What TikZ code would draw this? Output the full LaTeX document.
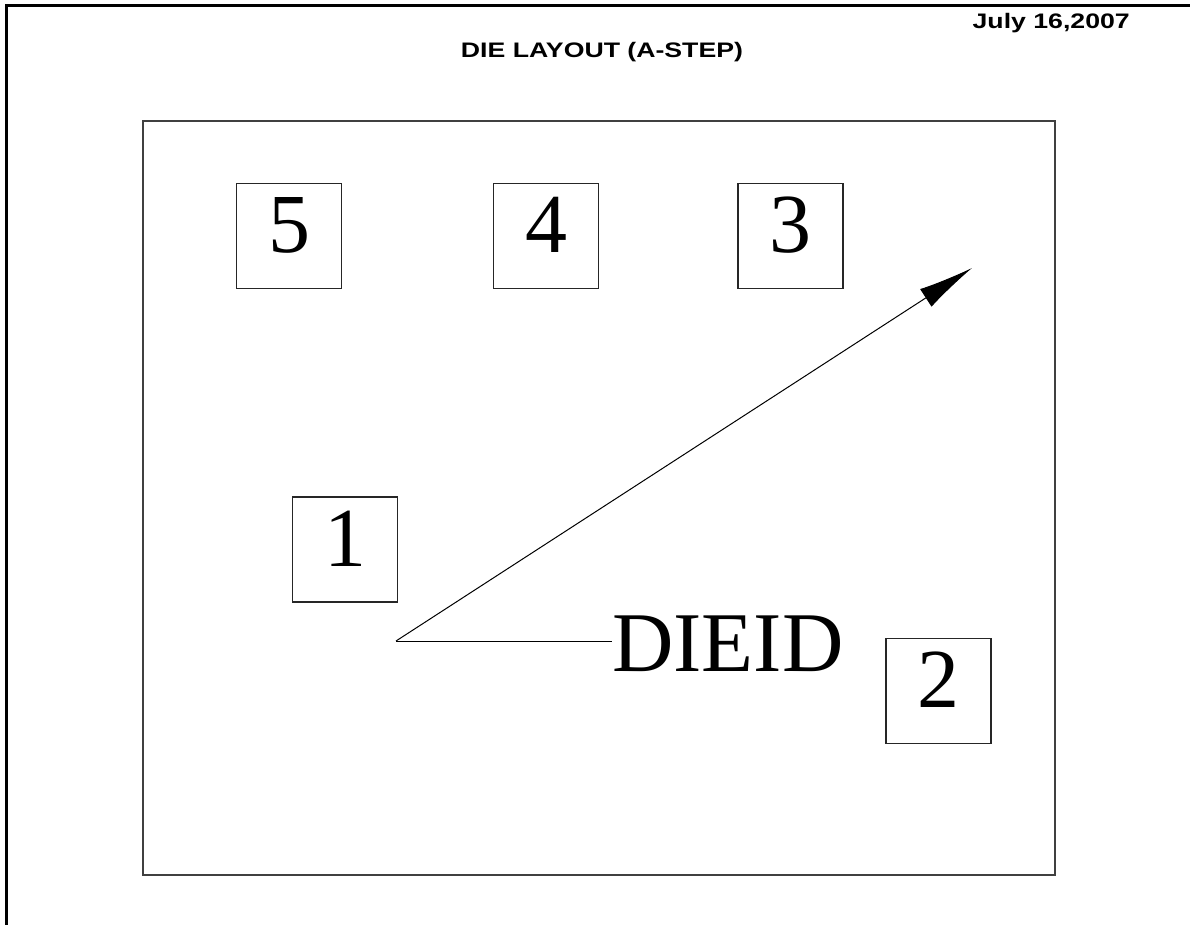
\documentclass[tikz,border=0pt]{standalone}
\usepackage{fontspec}
\setmainfont{Liberation Serif}
\newfontfamily\headfont[FakeStretch=1.27]{Liberation Sans}
\usetikzlibrary{positioning, arrows.meta, calc}

\tikzset{
  padbox/.style={draw=black!85, line width=1.5pt, minimum size=105pt, inner sep=0pt,
    font=\fontsize{84}{84}\selectfont, text height=57pt, text depth=24pt},
  headtext/.style={font=\headfont\bfseries\fontsize{21}{21}\selectfont, inner sep=0pt}
}

\begin{document}
\begin{tikzpicture}[x=1pt, y=-1pt]
      \useasboundingbox (0,0) rectangle (1190,925);
      \draw[line width=3pt] (6.5,925) -- (6.5,5.5) -- (1190,5.5);
      \node[headtext, anchor=base east] (date) at (1130,29) {July 16,2007};
      \node[headtext, anchor=base] (title) at (602,58) {DIE LAYOUT (A-STEP)};
      \draw[draw=black!75, line width=2pt] (143,121) rectangle (1055,875);
      \node[padbox] (p5) at (289,236) {5};
      \node[padbox] (p4) at (546,236) {4};
      \node[padbox] (p3) at (790.5,236) {3};
      \node[padbox] (p1) at (345,549.5) {1};
      \node[padbox] (p2) at (938.5,691) {2};
      \node[anchor=base west, inner sep=0pt, font=\fontsize{85}{85}\selectfont] (dieid) at (612,671) {DIEID};
      \coordinate (origin) at (396,641);
      \coordinate (tip) at (972,268);
      \draw[line width=1pt] (origin) -- (origin -| dieid.west);
      \draw[line width=1pt, -{Latex[length=55pt, width=21pt]}] (origin) -- (tip);
    \end{tikzpicture}
\end{document}
